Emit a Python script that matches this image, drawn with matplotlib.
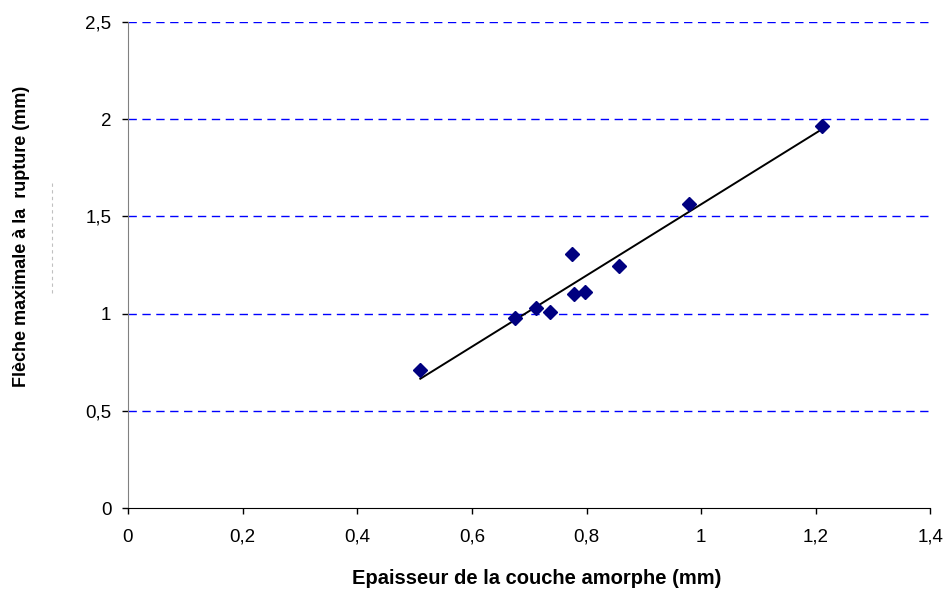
import numpy as np
import matplotlib
matplotlib.use('Agg')
from matplotlib import pyplot as plt
from matplotlib.lines import Line2D

## DATA
epaisseur = [0.51, 0.676, 0.712, 0.737, 0.775, 0.778, 0.797, 0.856, 0.979, 1.21]
fleche = [0.71, 0.979, 1.027, 1.008, 1.307, 1.10, 1.111, 1.245, 1.564, 1.965]
xticks = [0, 0.2, 0.4, 0.6, 0.8, 1, 1.2, 1.4]
xticklabels = ['0', '0,2', '0,4', '0,6', '0,8', '1', '1,2', '1,4']
yticks = [0, 0.5, 1, 1.5, 2, 2.5]
yticklabels = ['0', '0,5', '1', '1,5', '2', '2,5']

plt.rcParams['font.family'] = ['Liberation Sans', 'DejaVu Sans']

fig = plt.figure(figsize=(9.43, 5.91), dpi=100)
ax = fig.add_axes([0.1357, 0.1404, 0.851, 0.8224])

# linear trend line over the data range
x = np.array(epaisseur)
y = np.array(fleche)
a, b = np.polyfit(x, y, 1)
xl = np.array([x.min(), x.max()])
ax.plot(xl, a * xl + b, color='black', linewidth=1.4, zorder=2)

ax.plot(epaisseur, fleche, linestyle='none', marker='D', markersize=7.2,
        color='#000080', zorder=3)

for yv in yticks[1:]:
    ax.axhline(yv, color='#0000ff', linewidth=1, linestyle=(0, (6, 4)), zorder=1)

ax.set_xlim(0, 1.4)
ax.set_ylim(0, 2.5)
ax.set_xticks(xticks)
ax.set_xticklabels(xticklabels, fontsize=13.5)
ax.set_yticks(yticks)
ax.set_yticklabels(yticklabels, fontsize=13.5)
ax.tick_params(axis='both', direction='out', length=4, width=1)
ax.tick_params(axis='y', pad=8)
ax.tick_params(axis='x', pad=11)

for s in ['top', 'right']:
    ax.spines[s].set_visible(False)
ax.spines['left'].set_color('#808080')
ax.spines['bottom'].set_color('black')

fig.text(537 / 943, 1 - 578 / 591, 'Epaisseur de la couche amorphe (mm)',
         fontsize=14.5, fontweight='bold', ha='center', va='center')
fig.text(22 / 943, 1 - 236 / 591, 'Flèche maximale à la  rupture (mm)',
         fontsize=13, fontweight='bold', ha='center', va='center', rotation=90)

# faint leftover mark beside the y label
fig.add_artist(Line2D([52 / 943, 52 / 943], [1 - 293 / 591, 1 - 183 / 591],
                      color='#c0c0c0', linewidth=0.8, linestyle=(0, (3, 3))))

fig.savefig('out.png', dpi=100)
